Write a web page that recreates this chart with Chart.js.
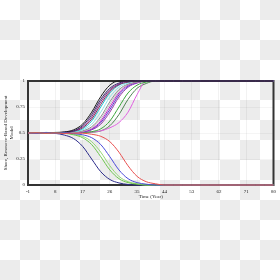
<!DOCTYPE html>
<html><head><meta charset="utf-8">
<script src="https://cdn.jsdelivr.net/npm/chart.js@4"></script>
<style>
html,body{margin:0;padding:0;width:280px;height:280px;overflow:hidden;
background-color:#fff;background-image:conic-gradient(#ececec 25%,#fff 0 50%,#ececec 0 75%,#fff 0);background-size:40px 40px;}
canvas{position:absolute;left:0;top:0;}
</style></head><body>
<canvas id="c" width="280" height="280"></canvas>
<script>
const years = [-1,2,5,8,11,14,17,20,23,26,29,32,35,38,41,44,47,50,53,56,59,62,65,68,71,74,77,80];
const xTicks = [-1,8,17,26,35,44,53,62,71,80];
const yTicks = [0,0.25,0.5,0.75,1];
const xTitle = 'Time (Year)';
const yTitle = ['Share, Resource-Based Development','Model'];

// declining runs
const runRed    = [0.5,0.502,0.497,0.501,0.495,0.499,0.498,0.488,0.468,0.417,0.316,0.185,0.083,0.032,0.012,0,0,0,0,0,0,0,0,0,0,0,0,0];
const runBlue   = [0.5,0.497,0.503,0.498,0.502,0.494,0.483,0.455,0.389,0.272,0.145,0.061,0.023,0.008,0,0,0,0,0,0,0,0,0,0,0,0,0,0];
const runGreen1 = [0.5,0.501,0.496,0.502,0.497,0.483,0.455,0.389,0.272,0.145,0.061,0.023,0.008,0,0,0,0,0,0,0,0,0,0,0,0,0,0,0];
const runGreen2 = [0.5,0.499,0.502,0.497,0.5,0.488,0.468,0.417,0.316,0.185,0.083,0.032,0.012,0,0,0,0,0,0,0,0,0,0,0,0,0,0,0];
const runNavy   = [0.5,0.503,0.498,0.496,0.48,0.447,0.372,0.25,0.128,0.053,0.02,0.005,0,0,0,0,0,0,0,0,0,0,0,0,0,0,0,0];

// rising runs
const run1  = [0.5,0.502,0.498,0.505,0.51,0.53,0.585,0.70,0.85,0.96,1,1,1,1,1,1,1,1,1,1,1,1,1,1,1,1,1,1];
const run2  = [0.5,0.497,0.503,0.5,0.508,0.52,0.57,0.677,0.823,0.93,0.98,1,1,1,1,1,1,1,1,1,1,1,1,1,1,1,1,1];
const run3  = [0.5,0.5,0.495,0.504,0.506,0.52,0.56,0.655,0.80,0.916,0.97,1,1,1,1,1,1,1,1,1,1,1,1,1,1,1,1,1];
const run4  = [0.5,0.504,0.5,0.497,0.503,0.516,0.55,0.634,0.775,0.90,0.965,0.99,1,1,1,1,1,1,1,1,1,1,1,1,1,1,1,1];
const run5  = [0.5,0.498,0.506,0.5,0.505,0.513,0.54,0.615,0.75,0.885,0.96,0.988,1,1,1,1,1,1,1,1,1,1,1,1,1,1,1,1];
const run6  = [0.5,0.501,0.497,0.507,0.5,0.509,0.53,0.584,0.70,0.845,0.94,0.98,1,1,1,1,1,1,1,1,1,1,1,1,1,1,1,1];
const run7  = [0.5,0.496,0.502,0.498,0.504,0.506,0.52,0.56,0.655,0.80,0.916,0.97,0.99,1,1,1,1,1,1,1,1,1,1,1,1,1,1,1];
const run8  = [0.5,0.503,0.499,0.502,0.497,0.505,0.516,0.55,0.634,0.775,0.90,0.965,0.99,1,1,1,1,1,1,1,1,1,1,1,1,1,1,1];
const run9  = [0.5,0.499,0.504,0.496,0.503,0.502,0.513,0.54,0.615,0.75,0.885,0.96,0.987,1,1,1,1,1,1,1,1,1,1,1,1,1,1,1];
const run10 = [0.5,0.502,0.497,0.503,0.499,0.506,0.511,0.535,0.60,0.725,0.866,0.95,0.984,1,1,1,1,1,1,1,1,1,1,1,1,1,1,1];
const run11 = [0.5,0.497,0.501,0.505,0.498,0.504,0.51,0.53,0.584,0.70,0.845,0.94,0.98,1,1,1,1,1,1,1,1,1,1,1,1,1,1,1];
const run12 = [0.5,0.503,0.498,0.5,0.495,0.503,0.505,0.513,0.54,0.615,0.75,0.885,0.96,0.99,1,1,1,1,1,1,1,1,1,1,1,1,1,1];
const run14 = [0.5,0.498,0.502,0.504,0.497,0.501,0.503,0.51,0.52,0.55,0.60,0.70,0.87,1,1,1,1,1,1,1,1,1,1,1,1,1,1,1];
const run13 = [0.5,0.5,0.503,0.497,0.502,0.498,0.504,0.507,0.52,0.57,0.677,0.823,0.93,0.976,1,1,1,1,1,1,1,1,1,1,1,1,1,1];

const seriesList = [
  [runRed,'#e85050'],[runBlue,'#4a4ad8'],[runGreen1,'#6cc54c'],[runGreen2,'#94d874'],[runNavy,'#2b2b8a'],
  [run1,'#1a1a1a'],[run2,'#3d2b6b'],[run3,'#7b2d8b'],[run4,'#8e2454'],[run5,'#1fbfcf'],[run6,'#8fe3e8'],
  [run7,'#8a8a8a'],[run8,'#c4c4c4'],[run9,'#c21fc2'],[run10,'#5b3fd1'],[run11,'#9d3fa8'],[run12,'#3aa63a'],
  [run14,'#e060e0'],[run13,'#4f8052']
];

const datasets = seriesList.map(([vals,col]) => ({
  data: vals.map((v,i)=>({x:years[i],y:v})),
  borderColor: col, borderWidth: 1, pointRadius: 0, fill:false,
  cubicInterpolationMode:'monotone', clip: 2
}));

const framePlugin = {
  id:'frame',
  beforeDatasetsDraw(chart){
    const {ctx, chartArea:a} = chart;
    ctx.save();
    ctx.strokeStyle = '#333';
    ctx.lineWidth = 2;
    ctx.strokeRect(a.left, a.top, a.right-a.left, a.bottom-a.top);
    ctx.restore();
  }
};

const tickFont = {family:'Liberation Serif', size:5};
new Chart(document.getElementById('c'), {
  type:'line',
  data:{datasets},
  plugins:[framePlugin],
  options:{
    responsive:false, animation:false, devicePixelRatio:1,
    layout:{padding:{top:81,right:6,left:0,bottom:80}},
    plugins:{legend:{display:false}, tooltip:{enabled:false}},
    scales:{
      x:{type:'linear', min:-1, max:80,
        afterBuildTicks(s){ s.ticks = xTicks.map(v=>({value:v})); },
        afterFit(s){ s.height = 15; },
        grid:{color:'rgba(0,0,0,0.05)', drawTicks:false},
        border:{display:false},
        ticks:{padding:4, font:tickFont, color:'#222', maxRotation:0, autoSkip:false, callback:v=>String(v)},
        title:{display:true, text:xTitle, font:tickFont, color:'#222', padding:{top:0,bottom:0}}
      },
      y:{type:'linear', min:0, max:1,
        afterBuildTicks(s){ s.ticks = yTicks.map(v=>({value:v})); },
        afterFit(s){ s.width = 28; },
        grid:{color:'rgba(0,0,0,0.04)', drawTicks:false},
        border:{display:false},
        ticks:{padding:3, font:tickFont, color:'#222', callback:v=>String(v)},
        title:{display:true, text:yTitle, font:tickFont, color:'#222', padding:{top:3,bottom:0}}
      }
    }
  }
});
</script>
</body></html>
